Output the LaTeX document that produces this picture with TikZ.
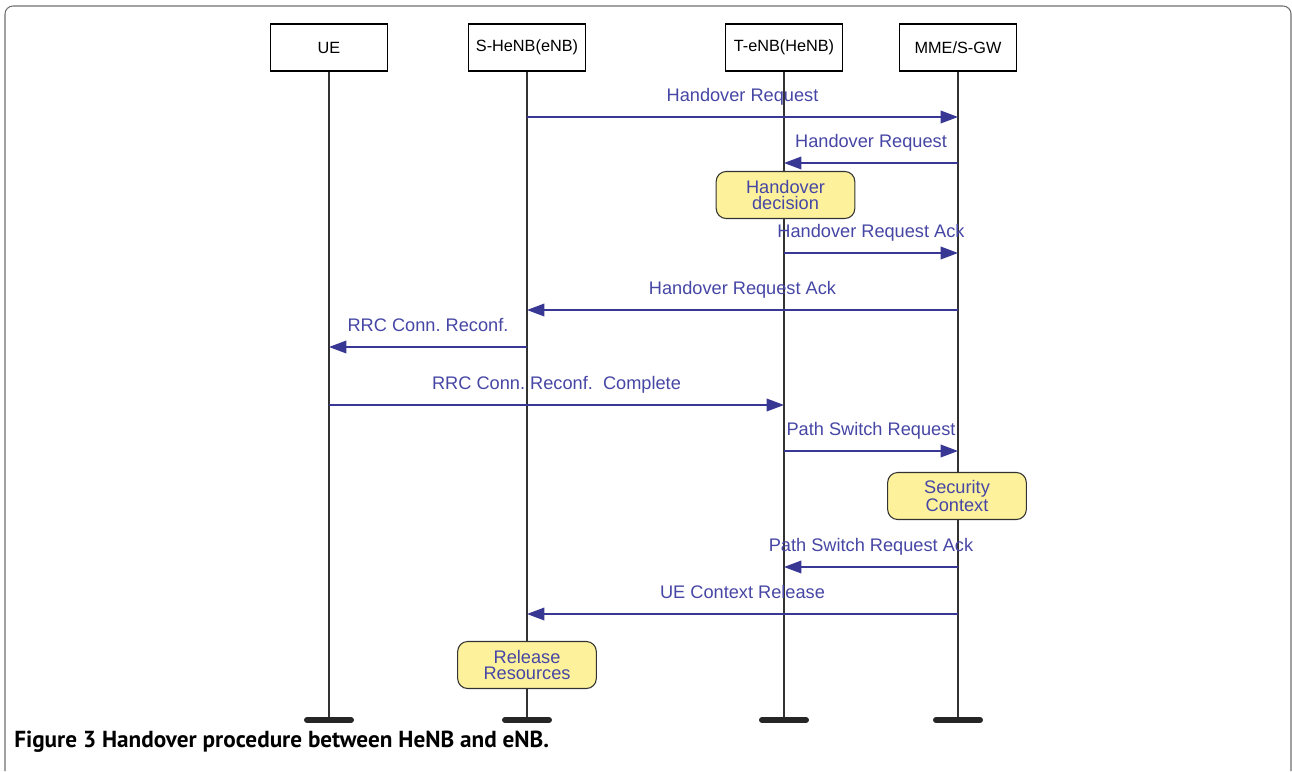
\documentclass[tikz,border=0pt]{standalone}
\usepackage{fontspec}
\setmainfont{Liberation Sans}
\newfontfamily\capfont{PT Sans}
\usetikzlibrary{arrows.meta}
\definecolor{msgblue}{RGB}{56,56,148}
\definecolor{txtblue}{RGB}{70,70,165}
\definecolor{notefill}{RGB}{253,242,155}
\definecolor{lifegray}{RGB}{50,50,50}
\definecolor{framegray}{RGB}{110,110,110}
\begin{document}
\begin{tikzpicture}[x=0.75pt,y=-0.75pt,
  hdr/.style={draw=black, line width=0.8pt, minimum width=87.75pt, minimum height=35.25pt, inner sep=0pt, font=\fontsize{12.2}{14}\selectfont},
  life/.style={draw=lifegray, line width=1.1pt},
  bar/.style={draw=black!85, line width=4.5pt, line cap=round},
  msg/.style={draw=msgblue, line width=1pt, -{Triangle[length=13pt,width=9.5pt]}},
  lbl/.style={midway, anchor=base, yshift=12pt, inner sep=0pt, text=txtblue, font=\fontsize{13.65}{14}\selectfont\frenchspacing},
  note/.style={draw=black!80, line width=0.8pt, fill=notefill, rounded corners=7.5pt, minimum width=104pt, minimum height=35.25pt, inner sep=0pt, align=center, text=txtblue, font=\fontsize{13.65}{12}\selectfont}
]
\useasboundingbox (0,0) rectangle (1292,771);
% frame
\draw[framegray, line width=0.8pt, rounded corners=6pt] (5,771) -- (5,6) -- (1291,6) -- (1291,771);
% headers
\node[hdr] (ue) at (329,47.5) {UE};
\node[hdr] (sh) at (527,47.5) {S-HeNB(eNB)};
\node[hdr] (te) at (784,47.5) {T-eNB(HeNB)};
\node[hdr] (mme) at (958,47.5) {MME/S-GW};
% lifelines
\coordinate (bot) at (0,720);
\foreach \n in {ue,sh,te,mme}{
  \coordinate (\n e) at (\n |- bot);
  \draw[life] (\n.south) -- (\n e);
  \draw[bar] ([xshift=-16.5pt]\n e) -- ([xshift=16.5pt]\n e);
}
% message rows
\coordinate (y1) at (0,117);
\coordinate (y2) at (0,163);
\coordinate (y4) at (0,253);
\coordinate (y5) at (0,310);
\coordinate (y6) at (0,347);
\coordinate (y7) at (0,405);
\coordinate (y8) at (0,451);
\coordinate (y10) at (0,567);
\coordinate (y11) at (0,614);
\draw[msg] (sh |- y1) -- node[lbl] (l1) {Handover Request} (mme |- y1);
\draw[msg] (mme |- y2) -- node[lbl] (l2) {Handover Request} (te |- y2);
\draw[msg] (te |- y4) -- node[lbl] (l4) {Handover Request Ack} (mme |- y4);
\draw[msg] (mme |- y5) -- node[lbl] (l5) {Handover Request Ack} (sh |- y5);
\draw[msg] (sh |- y6) -- node[lbl] (l6) {RRC Conn. Reconf.} (ue |- y6);
\draw[msg] (ue |- y7) -- node[lbl] (l7) {RRC Conn. Reconf.~ Complete} (te |- y7);
\draw[msg] (te |- y8) -- node[lbl] (l8) {Path Switch Request} (mme |- y8);
\draw[msg] (mme |- y10) -- node[lbl] (l10) {Path Switch Request Ack} (te |- y10);
\draw[msg] (mme |- y11) -- node[lbl] (l11) {UE Context Release} (sh |- y11);
% notes
\node[note] (n1) at (785.5,195) {Handover\\decision};
\node[note] (n2) at (957,496) {Security\\Context};
\node[note] (n3) at (527,665) {Release\\Resources};
% caption
\node[anchor=base west, inner sep=0pt, font=\capfont\bfseries\fontsize{17.4}{20}\selectfont] (cap) at (14,747.5) {Figure 3 Handover procedure between HeNB and eNB.};
\end{tikzpicture}
\end{document}
